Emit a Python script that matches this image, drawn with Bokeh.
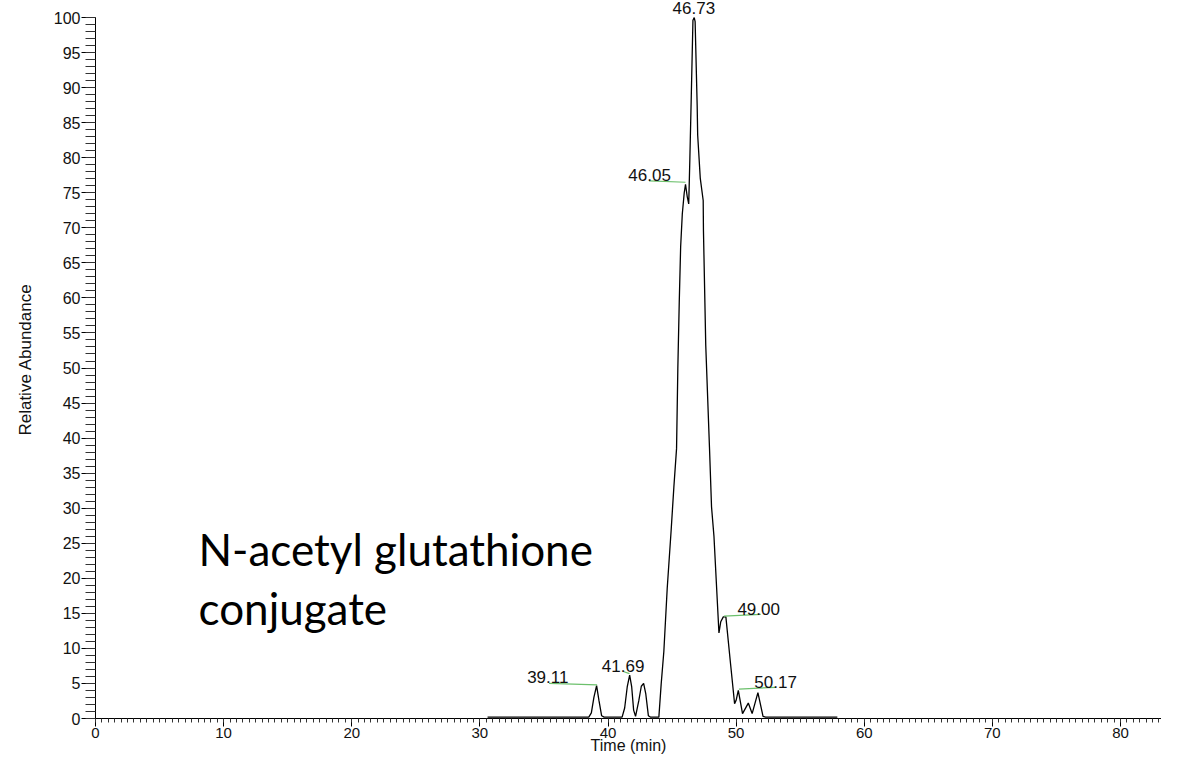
from bokeh.plotting import figure
from bokeh.models import Range1d, Label, FixedTicker, ColumnDataSource
from bokeh.embed import file_html
from bokeh.resources import INLINE

# ---- data ----
time_min = [30.6, 38.5, 38.7, 38.9, 39.11, 39.3, 39.5, 39.7,
            41.1, 41.3, 41.5, 41.69, 41.85, 42.0, 42.15, 42.4, 42.6, 42.78, 42.95, 43.15, 43.3,
            43.97, 44.15, 44.36, 44.62, 44.93, 45.14, 45.35, 45.45, 45.56, 45.67, 45.8, 45.95,
            46.05, 46.18, 46.3, 46.39, 46.5, 46.63, 46.73, 46.8, 46.96, 47.0, 47.2, 47.43,
            47.45, 47.63, 47.92, 48.08, 48.27, 48.66, 48.8, 49.0, 49.2, 49.57, 49.88, 50.0,
            50.17, 50.5, 50.95, 51.25, 51.7, 52.1, 52.3, 57.9]
abundance = [0.2, 0.2, 0.8, 3.0, 4.7, 2.5, 0.4, 0.2,
             0.2, 1.5, 4.5, 6.2, 4.5, 1.2, 0.3, 2.5, 4.6, 5.0, 3.5, 0.4, 0.2,
             0.2, 4.9, 9.6, 18.5, 26.9, 33.0, 38.5, 49.9, 59.3, 67.3, 72.0, 75.0,
             76.2, 74.5, 73.4, 79.9, 88.8, 99.6, 100.0, 99.4, 87.4, 83.2, 77.1, 73.9,
             69.6, 53.2, 38.7, 30.2, 26.0, 12.2, 13.8, 14.5, 14.5, 7.7, 2.1, 2.6,
             4.0, 0.7, 2.2, 0.7, 3.7, 0.3, 0.2, 0.2]

peak_labels = ["46.73", "46.05", "39.11", "41.69", "49.00", "50.17"]
# annotation positions (data units)
label_x = [46.7, 43.25, 35.3, 41.18, 51.76, 53.08]
label_y = [101.3, 77.6, 5.85, 7.5, 15.6, 5.15]
# green marker lines next to labels
line_x0 = [43.2, 35.4, 41.19, 49.05, 50.22]
line_x1 = [46.05, 39.15, 41.68, 51.92, 53.08]
line_y0 = [76.7, 5.0, 6.7, 14.6, 4.2]
line_y1 = [76.5, 4.8, 6.4, 14.85, 4.45]

y_ticks = list(range(0, 101, 5))
x_ticks = list(range(0, 81, 10))

p = figure(width=1161, height=758, output_backend="svg", toolbar_location=None,
           x_range=Range1d(0, 83.2), y_range=Range1d(0, 102.43),
           min_border_left=95, min_border_top=0, min_border_right=0, min_border_bottom=40)
p.outline_line_color = None
p.grid.visible = False
p.background_fill_color = "white"
p.border_fill_color = "white"

# y axis
ya = p.yaxis[0]
ya.bounds = (0, 100)
ya.ticker = FixedTicker(ticks=y_ticks, minor_ticks=list(range(0, 101)))
ya.major_tick_out = 14
ya.major_tick_in = 0
ya.minor_tick_out = 10
ya.minor_tick_in = 0
ya.axis_line_color = "black"
ya.major_tick_line_color = "black"
ya.minor_tick_line_color = "#333333"
ya.major_label_text_font = "Liberation Sans"
ya.major_label_text_font_size = "16px"
ya.major_label_text_color = "#111111"
ya.major_label_standoff = 1
ya.axis_label = "Relative Abundance"
ya.axis_label_text_font = "Liberation Sans Narrow, Liberation Sans"
ya.axis_label_text_font_style = "normal"
ya.axis_label_text_font_size = "17px"
ya.axis_label_text_color = "#111111"
ya.axis_label_standoff = 16

# x axis
xa = p.xaxis[0]
xa.ticker = FixedTicker(ticks=x_ticks, minor_ticks=[i * 0.5 for i in range(0, 168)])
xa.major_tick_out = 8
xa.major_tick_in = 0
xa.minor_tick_out = 4
xa.minor_tick_in = 0
xa.axis_line_color = "black"
xa.major_tick_line_color = "black"
xa.minor_tick_line_color = "#333333"
xa.major_label_text_font = "Liberation Sans"
xa.major_label_text_font_size = "15px"
xa.major_label_text_color = "#111111"
xa.major_label_standoff = 1
xa.axis_label = "Time (min)"
xa.axis_label_text_font = "Liberation Sans"
xa.axis_label_text_font_style = "normal"
xa.axis_label_text_font_size = "16px"
xa.axis_label_text_color = "#111111"
xa.axis_label_standoff = -4

# trace
src = ColumnDataSource(dict(t=time_min, a=abundance))
p.line("t", "a", source=src, line_color="black", line_width=1.3)

# green peak markers
p.segment(x0=line_x0, y0=line_y0, x1=line_x1, y1=line_y1, line_color="#6cc06c", line_width=1.2)

for txt, lx, ly in zip(peak_labels, label_x, label_y):
    p.add_layout(Label(x=lx, y=ly, text=txt, text_align="center", text_baseline="middle",
                       text_font="Liberation Sans", text_font_size="17px", text_color="#111111"))

p.add_layout(Label(x=8.04, y=24.2, text="N-acetyl glutathione", text_align="left",
                   text_baseline="alphabetic", text_font="Lato", text_font_size="44px",
                   text_color="black"))
p.add_layout(Label(x=8.04, y=15.75, text="conjugate", text_align="left",
                   text_baseline="alphabetic", text_font="Lato", text_font_size="44px",
                   text_color="black"))

open("out.html", "w").write(file_html(p, INLINE))
